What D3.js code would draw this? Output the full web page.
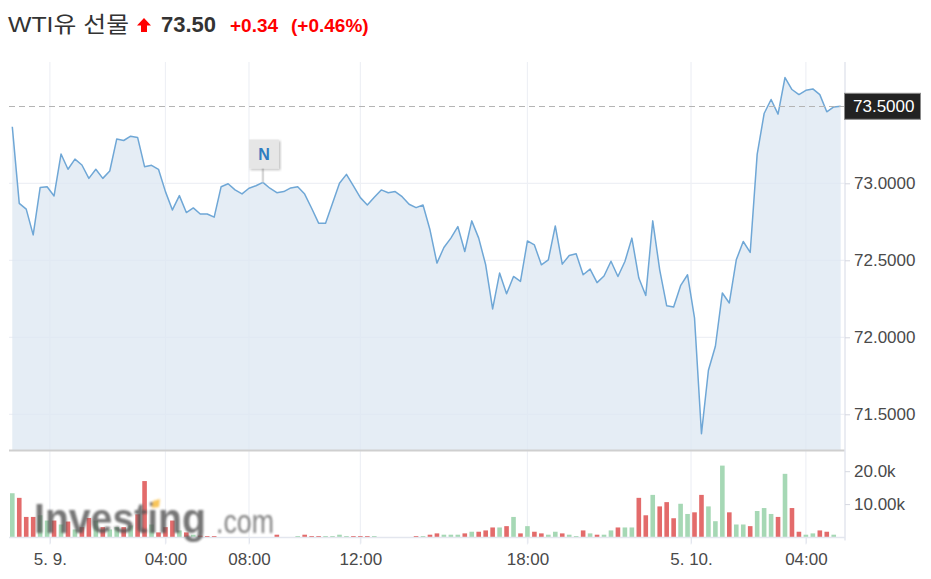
<!DOCTYPE html>
<html><head><meta charset="utf-8">
<script src="https://cdn.jsdelivr.net/npm/d3@7/dist/d3.min.js"></script>
<style>
html,body{margin:0;padding:0;background:#fff;}
svg{display:block;font-family:"Liberation Sans",Arial,"Noto Sans CJK KR",sans-serif;}
</style></head>
<body><svg id="c" width="931" height="579"></svg>
<script>
// ---- data ----
const prices = [73.367,72.870,72.832,72.665,72.972,72.978,72.918,73.190,73.091,73.157,
73.119,73.032,73.091,73.032,73.080,73.287,73.278,73.306,73.298,73.108,
73.117,73.091,72.946,72.827,72.920,72.810,72.840,72.801,72.801,72.780,
72.978,72.997,72.957,72.931,72.968,72.984,73.006,72.968,72.939,72.946,
72.970,72.978,72.930,72.838,72.741,72.741,72.870,73.000,73.058,72.983,
72.907,72.859,72.909,72.957,72.939,72.946,72.913,72.864,72.842,72.859,
72.698,72.482,72.583,72.644,72.719,72.557,72.756,72.644,72.471,72.184,
72.417,72.283,72.395,72.363,72.626,72.600,72.471,72.503,72.723,72.475,
72.531,72.542,72.406,72.443,72.355,72.398,72.494,72.395,72.492,72.644,
72.385,72.272,72.756,72.438,72.205,72.197,72.335,72.406,72.126,71.374,
71.786,71.942,72.288,72.223,72.503,72.622,72.551,73.188,73.453,73.544,
73.449,73.687,73.609,73.576,73.604,73.613,73.576,73.464,73.496,73.500];

const volumesK = [13.3,11.9,6.1,6.1,6.6,5.0,5.0,3.8,4.7,2.3,
3.0,5.8,5.0,3.0,2.3,3.0,3.0,3.5,6.9,17.0,
3.8,1.4,3.0,5.0,2.0,1.4,0.7,0.4,0.3,0.3,
0,0,0,0,0,0,0,0,0.7,0,
0,0.3,0.7,0.3,0.3,0.3,0.3,0.7,0.3,0.3,
0.3,0.3,0.3,0,0,0,0,0,0.3,0.3,
0.7,1.1,0.7,0.7,0.7,1.1,1.6,1.6,2.0,2.9,
2.9,3.3,6.1,1.1,3.3,1.6,1.1,0.7,1.6,1.1,
0.7,0.3,2.0,1.1,0.7,0.7,2.0,2.9,2.9,2.9,
11.9,6.6,12.8,9.3,10.6,5.7,10.1,7.0,7.5,12.8,
9.3,4.8,21.7,7.5,3.8,3.8,3.3,7.9,8.8,7.0,
6.1,19.2,8.8,1.6,0.7,1.1,2.0,1.6,0.7,0];

const volumeDir = ("uddduududu dduduududd udddududdd dddddddddd duddduuuud " +
                   "dduddddddu dduuududdd udududduud uududuuduu dduddduudd " +
                   "uuuduuduuu dudduuddud").replace(/ /g,"").split("");

const xTickIndex  = [5.4, 22, 34, 50, 74, 97.5, 114];
const xTickLabels = ["5. 9.", "04:00", "08:00", "12:00", "18:00", "5. 10.", "04:00"];
const priceTicks  = [73.0, 72.5, 72.0, 71.5];
const volumeTicks = [20, 10];
const volumeTickLabels = ["20.0k", "10.00k"];
const lastPrice = 73.50;
const newsIndex = 36;
const titleName = "WTI유 선물";
const titlePrice = "73.50";
const titleChange = "+0.34";
const titlePct = "(+0.46%)";

// ---- layout ----
const svg = d3.select("#c");
const plotLeft = 9, plotRight = 845;
const x = d3.scaleLinear().domain([0, prices.length - 1]).range([12.3, 840.7]);
const y = d3.scaleLinear().domain([71.5, 73.0]).range([414.3, 183.3]);
const yv = d3.scaleLinear().domain([0, 20]).range([537, 471.2]);
const priceTop = 62, priceBottom = 450.5, volBottom = 537.5;

const gridColor = "#eef0f5";

// vertical grid
svg.append("g").selectAll("line").data(xTickIndex).join("line")
  .attr("x1", d => x(d)).attr("x2", d => x(d))
  .attr("y1", priceTop).attr("y2", volBottom + 7)
  .attr("stroke", gridColor).attr("stroke-width", 1.2);

// horizontal grid
svg.append("g").selectAll("line").data(priceTicks).join("line")
  .attr("x1", plotLeft).attr("x2", plotRight)
  .attr("y1", d => y(d)).attr("y2", d => y(d))
  .attr("stroke", gridColor).attr("stroke-width", 1.2);

// area + line
const area = d3.area().x((d, i) => x(i)).y0(priceBottom).y1(d => y(d));
svg.append("path").datum(prices).attr("d", area)
  .attr("fill", "#dce7f2").attr("fill-opacity", 0.75);
const line = d3.line().x((d, i) => x(i)).y(d => y(d));
svg.append("path").datum(prices).attr("d", line)
  .attr("fill", "none").attr("stroke", "#6fa7d6").attr("stroke-width", 1.5)
  .attr("stroke-linejoin", "round");

// dashed last-price line
svg.append("line").attr("x1", plotLeft).attr("x2", plotRight)
  .attr("y1", Math.round(y(lastPrice)) + 0.5).attr("y2", Math.round(y(lastPrice)) + 0.5)
  .attr("stroke", "#b4b4b4").attr("stroke-dasharray", "6,4").attr("stroke-width", 1);

// panel separator
svg.append("line").attr("x1", plotLeft).attr("x2", plotRight)
  .attr("y1", priceBottom).attr("y2", priceBottom)
  .attr("stroke", "#cfcfcf").attr("stroke-width", 2);

// volume bars
const bw = 4.6;
svg.append("g").selectAll("rect").data(volumesK).join("rect")
  .attr("x", (d, i) => x(i) - bw / 2)
  .attr("y", d => yv(d))
  .attr("width", bw)
  .attr("height", d => Math.max(0, yv(0) - yv(d)))
  .attr("fill", (d, i) => volumeDir[i] === "u" ? "#a6d8b5" : "#e36b6b");

// x axis line
svg.append("line").attr("x1", plotLeft).attr("x2", plotRight)
  .attr("y1", volBottom).attr("y2", volBottom)
  .attr("stroke", "#e3e6ee").attr("stroke-width", 1.5);

// watermark
const defs = svg.append("defs");
defs.append("filter").attr("id", "blur").append("feGaussianBlur").attr("stdDeviation", 0.9);
const wm = svg.append("g").attr("filter", "url(#blur)").attr("opacity", 0.8);
wm.append("text").attr("x", 34).attr("y", 533).attr("font-size", 43).attr("font-weight", "bold")
  .attr("fill", "#555").attr("textLength", 172).attr("lengthAdjust", "spacingAndGlyphs")
  .text("Investing");
wm.append("text").attr("x", 216).attr("y", 533).attr("font-size", 33)
  .attr("fill", "#666").attr("textLength", 58).attr("lengthAdjust", "spacingAndGlyphs")
  .text(".com");
wm.append("path").attr("d", "M153,501 L160,499 L159,507 L152,508 Z").attr("fill", "#f7b733");

// right axis line
svg.append("line").attr("x1", plotRight).attr("x2", plotRight)
  .attr("y1", priceTop).attr("y2", volBottom + 3)
  .attr("stroke", "#e3e6ee").attr("stroke-width", 1.5);

// price axis
const pAxis = svg.append("g").attr("transform", `translate(${plotRight},0)`)
  .call(d3.axisRight(y).tickValues(priceTicks).tickFormat(d3.format(".4f")).tickSize(5).tickPadding(4));
pAxis.select(".domain").remove();
pAxis.selectAll(".tick line").attr("stroke", "#d5d8e0");
pAxis.selectAll(".tick text").attr("fill", "#4a4a4a").attr("font-size", 17)
  .attr("font-family", "'Liberation Sans',Arial,sans-serif");

// volume axis
const vAxis = svg.append("g").attr("transform", `translate(${plotRight},0)`)
  .call(d3.axisRight(yv).tickValues(volumeTicks).tickFormat((d, i) => volumeTickLabels[i]).tickSize(5).tickPadding(4));
vAxis.select(".domain").remove();
vAxis.selectAll(".tick line").attr("stroke", "#d5d8e0");
vAxis.selectAll(".tick text").attr("fill", "#4a4a4a").attr("font-size", 17)
  .attr("font-family", "'Liberation Sans',Arial,sans-serif");

// x axis
const xAxis = svg.append("g").attr("transform", `translate(0,${volBottom})`)
  .call(d3.axisBottom(x).tickValues(xTickIndex).tickFormat((d, i) => xTickLabels[i]).tickSize(6).tickPadding(9));
xAxis.select(".domain").remove();
xAxis.selectAll(".tick line").attr("stroke", "#e3e6ee");
xAxis.selectAll(".tick text").attr("fill", "#4a4a4a").attr("font-size", 17)
  .attr("font-family", "'Liberation Sans',Arial,sans-serif");

// last price box
const ly = y(lastPrice);
svg.append("rect").attr("x", 844.5).attr("y", ly - 13).attr("width", 76).attr("height", 26)
  .attr("fill", "#222").attr("stroke", "#8a8a8a").attr("stroke-width", 1);
svg.append("text").attr("x", 853).attr("y", ly).attr("dy", "0.35em")
  .attr("font-size", 17).attr("fill", "#fff").text(lastPrice.toFixed(4));

// news marker
const nx = x(newsIndex), nyPt = y(prices[newsIndex]);
svg.append("line").attr("x1", nx).attr("x2", nx).attr("y1", 168).attr("y2", nyPt)
  .attr("stroke", "#d8d8d8").attr("stroke-width", 2.5);
defs.append("filter").attr("id", "shadow").append("feDropShadow")
  .attr("dx", 1.5).attr("dy", 1.5).attr("stdDeviation", 1.2).attr("flood-color", "#000").attr("flood-opacity", 0.25);
svg.append("rect").attr("x", nx - 14).attr("y", 139.5).attr("width", 30).attr("height", 29)
  .attr("fill", "#e6e6e6").attr("filter", "url(#shadow)");
svg.append("text").attr("x", nx + 1).attr("y", 159.5).attr("text-anchor", "middle")
  .attr("font-size", 16).attr("font-weight", "bold").attr("fill", "#2f7cc0").text("N");

// title
const t = svg.append("g");
t.append("text").attr("x", 8).attr("y", 32).attr("font-size", 22).attr("fill", "#333")
  .attr("textLength", 121).attr("lengthAdjust", "spacingAndGlyphs").text(titleName);
t.append("path").attr("d", "M144,18 L151,25.5 L147,25.5 L147,32 L141,32 L141,25.5 L137,25.5 Z").attr("fill", "#f00");
t.append("text").attr("x", 161).attr("y", 32).attr("font-size", 22).attr("font-weight", "bold").attr("fill", "#333").text(titlePrice);
t.append("text").attr("x", 230).attr("y", 32).attr("font-size", 19).attr("font-weight", "bold").attr("fill", "#f00").text(titleChange);
t.append("text").attr("x", 291).attr("y", 32).attr("font-size", 19).attr("font-weight", "bold").attr("fill", "#f00").text(titlePct);
</script></body></html>
